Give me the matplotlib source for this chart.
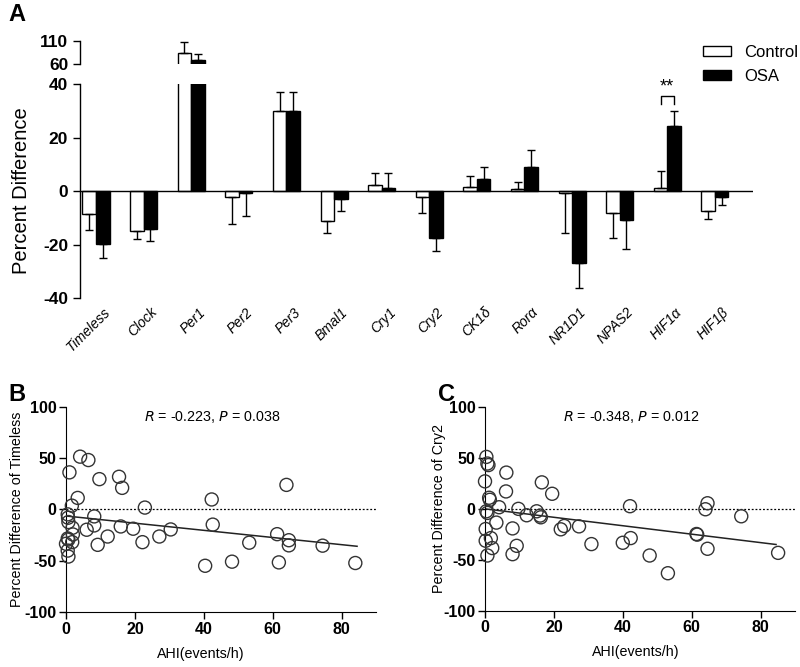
import numpy as np
import matplotlib
matplotlib.use("Agg")
import matplotlib.pyplot as plt
import matplotlib.transforms as mtransforms

plt.rcParams['font.family'] = ['Liberation Sans', 'DejaVu Sans']

# Panel A : pourcentage de difference par gene
genes = ["Timeless", "Clock", "Per1", "Per2", "Per3", "Bmal1", "Cry1", "Cry2",
         "CK1δ", "Rorα", "NR1D1", "NPAS2", "HIF1α", "HIF1β"]
control = [-8.7, -14.8, 84.0, -2.4, 29.9, -11.1, 2.2, -2.4, 1.4, 0.7, -0.9, -8.3, 1.1, -7.3]
control_err = [6.0, 3.2, 22.6, 10.0, 7.0, 4.7, 4.5, 5.9, 4.1, 2.8, 14.8, 9.4, 6.4, 3.3]
osa = [-19.7, -14.3, 69.0, -0.9, 30.0, -3.1, 1.0, -17.7, 4.5, 9.1, -26.8, -10.7, 24.4, -2.4]
osa_err = [5.4, 4.5, 12.0, 8.3, 7.2, 4.4, 5.7, 4.6, 4.6, 6.1, 9.4, 10.9, 5.5, 2.8]

# Panel B : Timeless vs AHI
b_ahi = [4.1, 6.5, 1.0, 9.7, 15.4, 16.3, 3.4, 1.7, 22.9, 42.3, 64.0, 0.5, 0.6, 8.2,
         0.7, 8.2, 1.9, 6.0, 15.9, 19.5, 30.4, 2.0, 12.1, 0.5, 0.7, 0.0, 1.8, 9.2,
         22.2, 27.1, 0.5, 0.7, 40.4, 48.2, 53.2, 61.3, 64.7, 64.7, 61.8, 74.5, 84.0, 42.6]
b_diff = [51.3, 48.0, 36.0, 29.4, 31.7, 20.9, 11.1, 3.6, 1.7, 9.6, 23.8, -4.9, -8.2, -6.9,
          -12.4, -15.7, -18.0, -19.9, -16.7, -18.9, -19.6, -24.5, -26.5, -28.4, -29.4, -33.6, -32.0, -34.6,
          -32.0, -26.5, -40.2, -46.0, -55.0, -51.0, -32.5, -24.2, -30.1, -35.1, -51.7, -35.4, -52.3, -14.9]
b_fit_x = [0, 84.5]
b_fit_y = [-6.5, -36.0]

# Panel C : Cry2 vs AHI
c_ahi = [0.4, 0.7, 1.0, 6.2, 0.0, 16.5, 19.5, 6.1, 1.2, 1.4, 4.1, 9.7, 0.4, 0.7, 12.1,
         15.0, 16.0, 16.2, 3.3, 23.0, 22.0, 27.3, 0.2, 8.0, 1.7, 0.2, 2.1, 9.2, 0.7, 8.0,
         30.9, 40.0, 42.3, 42.1, 47.8, 53.1, 61.4, 61.6, 64.6, 64.0, 74.4, 64.6, 85.1]
c_diff = [51.0, 44.5, 43.0, 35.6, 27.0, 26.0, 14.8, 17.1, 10.9, 8.9, 1.6, 0.0, -2.4, -4.0, -6.3,
          -2.4, -6.6, -8.3, -13.5, -16.8, -20.1, -17.2, -19.8, -19.2, -28.7, -31.3, -38.5, -36.3, -45.8, -44.5,
          -34.6, -33.3, -28.7, 2.6, -45.8, -63.2, -24.7, -25.3, 5.5, -0.4, -7.3, -39.2, -43.2]
c_fit_x = [0, 84.5]
c_fit_y = [0.0, -35.0]

fig = plt.figure(figsize=(8, 6.67), dpi=100)

# axes du panel A (axe coupe)
ax_lo = fig.add_axes([0.1, 0.5532, 0.84125, 0.3208])
ax_hi = fig.add_axes([0.1, 0.9036, 0.84125, 0.0354])

x = np.arange(len(genes))
w = 0.284

def one_sided(vals, errs):
    lo = [e if v < 0 else 0 for v, e in zip(vals, errs)]
    hi = [e if v >= 0 else 0 for v, e in zip(vals, errs)]
    return [lo, hi]

for ax in (ax_lo, ax_hi):
    ax.bar(x - w / 2, control, w, color="white", edgecolor="black", linewidth=1, label="Control")
    ax.bar(x + w / 2, osa, w, color="black", edgecolor="black", linewidth=1, label="OSA")
    ax.errorbar(x - w / 2, control, yerr=one_sided(control, control_err), fmt="none",
                ecolor="black", elinewidth=1, capsize=3.2, capthick=1)
    ax.errorbar(x + w / 2, osa, yerr=one_sided(osa, osa_err), fmt="none",
                ecolor="black", elinewidth=1, capsize=3.2, capthick=1)
    ax.set_xlim(-0.336, 13.8)
    for s in ("top", "right", "bottom"):
        ax.spines[s].set_visible(False)
    ax.spines["left"].set_linewidth(1)
    ax.tick_params(axis="y", length=5, width=1)

ax_lo.set_ylim(-40, 40)
ax_lo.set_yticks([-40, -20, 0, 20, 40])
ax_lo.set_yticklabels(["-40", "-20", "0", "20", "40"], fontweight="bold", fontsize=12.5)
ax_lo.axhline(0, color="black", linewidth=1)
ax_lo.set_xticks(x)
ax_lo.set_xticklabels(genes, rotation=45, ha="right", va="top", rotation_mode="anchor",
                      fontstyle="italic", fontsize=10)
ax_lo.tick_params(axis="x", length=0, pad=5)
shift = mtransforms.ScaledTranslation(7 / 100, 0, fig.dpi_scale_trans)
for t in ax_lo.get_xticklabels():
    t.set_transform(t.get_transform() + shift)
ax_lo.set_ylabel("Percent Difference", fontsize=14.5)
ax_lo.yaxis.set_label_coords(-0.073, 0.5)

ax_hi.set_ylim(60, 110)
ax_hi.set_yticks([60, 110])
ax_hi.set_yticklabels(["60", "110"], fontweight="bold", fontsize=12.5)
ax_hi.set_xticks([])

# significativite HIF1a
i = genes.index("HIF1α")
ax_lo.plot([i - w / 2, i - w / 2, i + w / 2, i + w / 2], [32.7, 35.5, 35.5, 32.7],
           color="black", linewidth=1, clip_on=False)
ax_lo.text(i, 39.0, "**", ha="center", va="center", fontsize=13, clip_on=False)

handles, labels = ax_lo.get_legend_handles_labels()
fig.legend(handles, labels, loc="upper left", bbox_to_anchor=(0.870, 0.943), frameon=False,
           fontsize=12, handlelength=1.7, handleheight=0.55, labelspacing=0.55, handletextpad=0.8,
           borderaxespad=0)

# panels B et C
def scatter_panel(rect, ahi, diff, fx, fy, ylab, txt, lab_x, ylab_x):
    ax = fig.add_axes(rect)
    ax.axhline(0, color="black", linestyle=(0, (1.5, 1.5)), linewidth=0.9)
    ax.scatter(ahi, diff, s=88, facecolors="none", edgecolors="#333333", linewidths=1, clip_on=False, zorder=3)
    ax.plot(fx, fy, color="#222222", linewidth=1.1)
    ax.set_xlim(0, 90)
    ax.set_ylim(-100, 100)
    ax.set_xticks([0, 20, 40, 60, 80])
    ax.set_xticklabels(["0", "20", "40", "60", "80"], fontweight="bold", fontsize=11.5)
    ax.set_yticks([-100, -50, 0, 50, 100])
    ax.set_yticklabels(["-100", "-50", "0", "50", "100"], fontweight="bold", fontsize=11.5)
    for s in ("top", "right"):
        ax.spines[s].set_visible(False)
    ax.tick_params(length=5, width=1, pad=2)
    ax.set_ylabel(ylab, fontsize=10.3)
    ax.yaxis.set_label_coords(ylab_x, 0.5)
    ax.set_xlabel("AHI(events/h)", fontsize=10.3)
    ax.xaxis.set_label_coords(lab_x, -0.17)
    r, p = txt
    ax.text(0.47, 0.95, r"$\it{R}$ = " + r + r", $\it{P}$ = " + p, transform=ax.transAxes,
            ha="center", va="center", fontsize=10.3)
    return ax

scatter_panel([0.0825, 0.0825, 0.3875, 0.3078], b_ahi, b_diff, b_fit_x, b_fit_y,
              "Percent Difference of Timeless", ("-0.223", "0.038"), 0.435, -0.135)
scatter_panel([0.60625, 0.0844, 0.3875, 0.3054], c_ahi, c_diff, c_fit_x, c_fit_y,
              "Percent Difference of Cry2", ("-0.348", "0.012"), 0.487, -0.127)

fig.text(0.021, 0.979, "A", fontsize=17, fontweight="bold", ha="center", va="center")
fig.text(0.021, 0.408, "B", fontsize=17, fontweight="bold", ha="center", va="center")
fig.text(0.558, 0.408, "C", fontsize=17, fontweight="bold", ha="center", va="center")

fig.savefig("out.png", dpi=100)
